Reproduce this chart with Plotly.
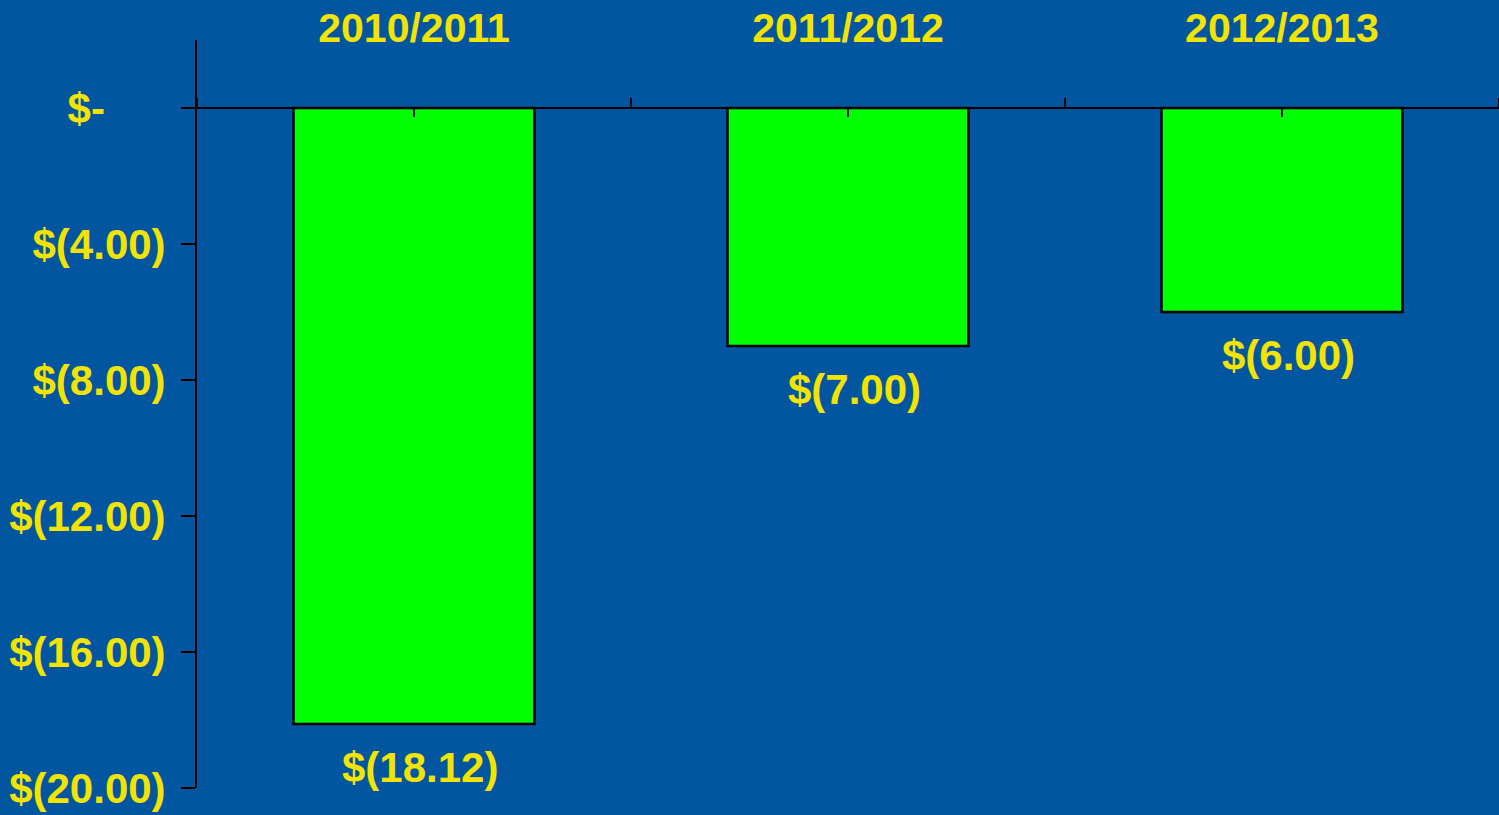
import plotly.graph_objects as go

categories = ["2010/2011", "2011/2012", "2012/2013"]
values = [-18.12, -7.00, -6.00]
ytick_vals = [0, -4, -8, -12, -16, -20]
ytick_text = ["$-<span style='color:rgba(0,0,0,0)'>00)</span>", "$(4.00)", "$(8.00)",
              "$(12.00)", "$(16.00)", "$(20.00)"]

BG = "#0256A0"
YEL = "#F2E400"
FONT = "Liberation Sans, Arial, sans-serif"

fig = go.Figure()
fig.add_trace(go.Bar(
    x=categories, y=values, width=0.555,
    marker=dict(color="#00FF00", line=dict(color="black", width=2.5)),
    hoverinfo="skip", showlegend=False,
))
# invisible helper traces so the tick-only overlay axes know the categories
for ax in ["x2", "x3"]:
    fig.add_trace(go.Scatter(x=categories, y=values, xaxis=ax, mode="markers",
                             marker=dict(opacity=0), hoverinfo="skip", showlegend=False))

for c, v in zip(categories, values):
    fig.add_annotation(x=c, y=v, text=f"${'(' if v < 0 else ''}{abs(v):.2f}{')' if v < 0 else ''}",
                       showarrow=False, yanchor="middle", yshift=-43, xshift=6,
                       font=dict(family=FONT, size=42, color=YEL, weight="bold"))

ymin, ymax = -20, 2
zero_pos = (0 - ymin) / (ymax - ymin)

fig.update_layout(
    width=1499, height=815,
    margin=dict(l=197, r=0, t=40, b=27),
    paper_bgcolor=BG, plot_bgcolor=BG,
    bargap=0.445,
    xaxis=dict(type="category", categoryorder="array", categoryarray=categories,
               range=[-0.5, 2.5], side="top", anchor="free", position=0.986,
               showline=False, ticks="", showgrid=False, zeroline=False,
               tickfont=dict(family=FONT, size=41, color=YEL, weight="bold")),
    xaxis2=dict(type="category", categoryorder="array", categoryarray=categories,
                range=[-0.5, 2.5], overlaying="x", anchor="free", position=zero_pos,
                side="top", ticks="outside", tickson="boundaries", ticklen=10,
                tickwidth=2, tickcolor="black", showticklabels=False,
                showgrid=False, showline=False, zeroline=False),
    xaxis3=dict(type="category", categoryorder="array", categoryarray=categories,
                range=[-0.5, 2.5], overlaying="x", anchor="free", position=zero_pos,
                side="bottom", ticks="outside", ticklen=8,
                tickwidth=2, tickcolor="black", showticklabels=False,
                showgrid=False, showline=False, zeroline=False),
    yaxis=dict(range=[ymin, ymax], tickvals=ytick_vals, ticktext=ytick_text,
               showline=True, linecolor="black", linewidth=2,
               ticks="outside", ticklen=14, tickwidth=2, tickcolor="black",
               ticklabelstandoff=7,
               zeroline=True, zerolinecolor="black", zerolinewidth=2,
               showgrid=False,
               tickfont=dict(family=FONT, size=42, color=YEL, weight="bold")),
)

fig.write_html("out.html", config={"displayModeBar": False},
               post_script="document.body.style.margin='0';document.body.style.overflow='hidden';")
